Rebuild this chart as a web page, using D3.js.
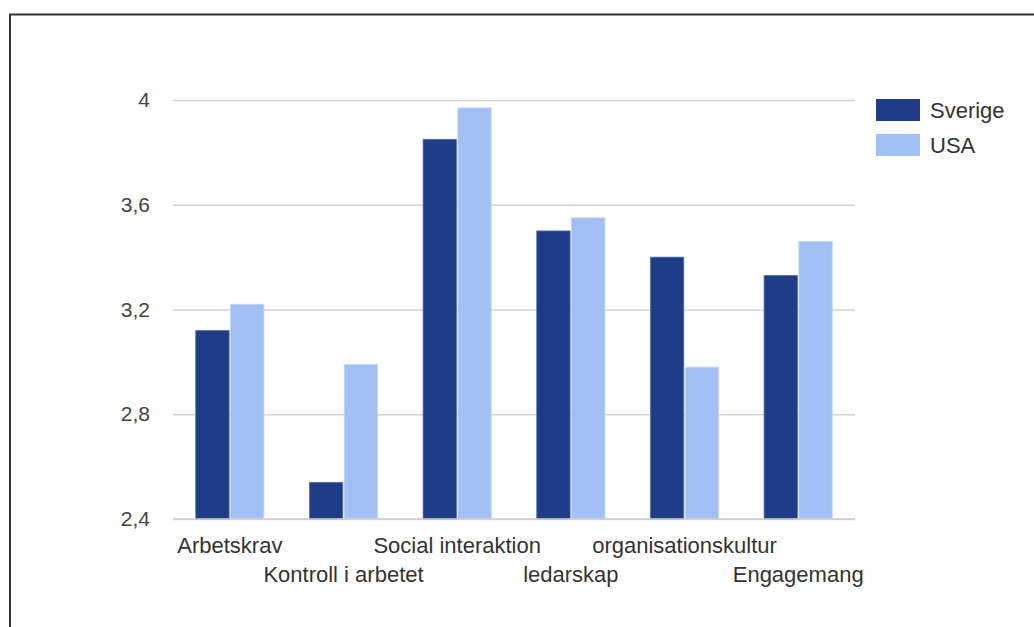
<!DOCTYPE html>
<html>
<head>
<meta charset="utf-8">
<script src="https://cdn.jsdelivr.net/npm/d3@7"></script>
<style>
  html, body { margin: 0; padding: 0; background: #fff; }
  svg { display: block; font-family: "Liberation Sans", Arial, sans-serif; }
</style>
</head>
<body>
<svg id="chart" width="1034" height="627"></svg>
<script>
const categories = ["Arbetskrav", "Kontroll i arbetet", "Social interaktion", "ledarskap", "organisationskultur", "Engagemang"];
const seriesNames = ["Sverige", "USA"];
const sverige = [3.12, 2.54, 3.85, 3.50, 3.40, 3.33];
const usa = [3.22, 2.99, 3.97, 3.55, 2.98, 3.46];
const tickValues = [2.4, 2.8, 3.2, 3.6, 4];
const tickLabels = ["2,4", "2,8", "3,2", "3,6", "4"];
const colors = ["#1f3d87", "#a2c0f4"];

const svg = d3.select("#chart");

// outer frame
svg.append("rect")
  .attr("x", 10).attr("y", 14.5)
  .attr("width", 1100).attr("height", 700)
  .attr("fill", "none").attr("stroke", "#333").attr("stroke-width", 2);

const plotLeft = 173, plotRight = 855, plotTop = 100, plotBottom = 519;

const y = d3.scaleLinear().domain([2.4, 4]).range([plotBottom, plotTop]);
const x0 = d3.scaleBand().domain(categories).range([plotLeft, plotRight]).paddingInner(0.4).paddingOuter(0.2);
const x1 = d3.scaleBand().domain(seriesNames).range([0, x0.bandwidth()]).paddingInner(0.04);

// gridlines + tick labels
const yAxis = d3.axisLeft(y).tickValues(tickValues)
  .tickFormat((d, i) => tickLabels[i])
  .tickSize(-(plotRight - plotLeft)).tickPadding(23);
const gy = svg.append("g").attr("transform", `translate(${plotLeft},0)`).call(yAxis);
gy.select(".domain").remove();
gy.selectAll(".tick line").attr("stroke", "#d2d2d2").attr("stroke-width", 1.5);
gy.selectAll(".tick text")
  .attr("fill", "#444").attr("font-size", 21)
  .attr("font-family", "Liberation Sans, Arial, sans-serif");

// bars
const data = categories.map((c, i) => ({ cat: c, vals: [sverige[i], usa[i]] }));
const groups = svg.append("g").selectAll("g").data(data).join("g")
  .attr("transform", d => `translate(${x0(d.cat)},0)`);
groups.selectAll("rect")
  .data(d => d.vals.map((v, j) => ({ name: seriesNames[j], v, j })))
  .join("rect")
  .attr("x", d => x1(d.name))
  .attr("y", d => y(d.v))
  .attr("width", x1.bandwidth())
  .attr("height", d => y(2.4) - y(d.v))
  .attr("fill", d => colors[d.j])
  .attr("stroke", d => d.j === 0 ? "#5a74b0" : "#c4d8fa")
  .attr("stroke-width", 0.8);

// baseline
svg.append("line")
  .attr("x1", plotLeft).attr("x2", plotRight)
  .attr("y1", y(2.4)).attr("y2", y(2.4))
  .attr("stroke", "#cfcfcf").attr("stroke-width", 1.5);

// category labels (alternating rows)
const xAxis = d3.axisBottom(x0).tickSize(0).tickPadding(0);
const gx = svg.append("g").attr("transform", `translate(0,${plotBottom})`).call(xAxis);
gx.select(".domain").remove();
gx.selectAll(".tick text")
  .attr("dy", null)
  .attr("y", (d, i) => i % 2 === 0 ? 34 : 63)
  .attr("fill", "#333").attr("font-size", 22)
  .attr("font-family", "Liberation Sans, Arial, sans-serif");

// legend
const legend = svg.append("g").selectAll("g").data(seriesNames).join("g")
  .attr("transform", (d, i) => `translate(876,${99 + i * 35})`);
legend.append("rect").attr("width", 44).attr("height", 22)
  .attr("fill", (d, i) => colors[i]);
legend.append("text").attr("x", 54).attr("y", 19)
  .attr("font-size", 22).attr("fill", "#333")
  .text(d => d);
</script>
</body>
</html>
